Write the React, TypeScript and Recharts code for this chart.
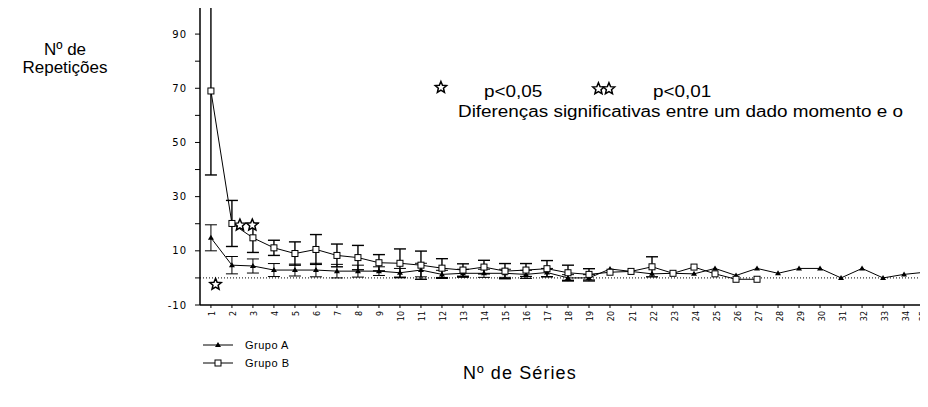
import React from 'react';
import { LineChart, Line, XAxis, YAxis, ErrorBar, ReferenceLine, ReferenceDot } from 'recharts';

const series = [1, 2, 3, 4, 5, 6, 7, 8, 9, 10, 11, 12, 13, 14, 15, 16, 17, 18, 19, 20, 21, 22, 23, 24, 25, 26, 27, 28, 29, 30, 31, 32, 33, 34, 35];
const grupoA = [14.8, 4.7, 4.4, 2.9, 2.9, 2.9, 2.5, 2.5, 2.5, 1.9, 2.9, 1.3, 1.7, 1.7, 1.7, 1.3, 2.0, 0, 0, 3.3, 2.4, 1.5, 1.7, 1.5, 3.5, 0.9, 3.5, 1.7, 3.5, 3.5, 0, 3.5, 0, 1.3, 2.1];
const erroA = [4.8, 3.2, 2.6, 2.4, 2.2, 2.5, 2.5, 2.2, 1.6, 1.6, 2.5, 1.5, 1.5, 1.5, 1.5, 1.5, 1.5, 1.2, 1.2, 0, 0, 0, 0, 0, 0, 0, 0, 0, 0, 0, 0, 0, 0, 0, 0];
const grupoB = [69, 20.1, 14.8, 11.1, 9, 10.5, 8.3, 7.5, 5.6, 5.4, 4.7, 3.6, 2.9, 4, 2.5, 2.9, 3.4, 1.9, 1.3, 2.1, 2.4, 4.1, 1.7, 4, 1.5, -0.5, -0.5, null, null, null, null, null, null, null, null];
const erroB = [31, 8.5, 5.4, 2.8, 4.3, 5.5, 4.2, 4.5, 3, 5.3, 5.2, 3.5, 2.3, 2.5, 2.8, 2.4, 3, 2.8, 2.1, 0, 0, 3.7, 0, 0, 0, 0, 0, 0, 0, 0, 0, 0, 0, 0, 0];
const yTicks = [-10, 0, 10, 20, 30, 40, 50, 60, 70, 80, 90, 100];
const yLabels = [-10, 10, 30, 50, 70, 90];
const estrelasDados = [
  { serie: 1.22, valor: -2.4 },
  { serie: 2.38, valor: 19.5 },
  { serie: 2.97, valor: 19.5 },
];
const estrelasLegenda = [
  { serie: 11.95, valor: 70.3 },
  { serie: 19.45, valor: 69.8 },
  { serie: 19.95, valor: 69.8 },
];

const data = series.map((s, i) => ({
  serie: s,
  a: grupoA[i],
  errA: erroA[i],
  b: grupoB[i],
  errB: erroB[i],
}));

const starPath = (cx: number, cy: number, r: number) => {
  const pts: string[] = [];
  for (let k = 0; k < 10; k++) {
    const rad = k % 2 === 0 ? r : r * 0.45;
    const ang = -Math.PI / 2 + (k * Math.PI) / 5;
    pts.push(`${cx + rad * Math.cos(ang)},${cy + rad * Math.sin(ang)}`);
  }
  return `M${pts.join('L')}Z`;
};

const Star = (props: any) => (
  <path d={starPath(props.cx, props.cy, 6)} fill="#fff" stroke="#000" strokeWidth={1.5} />
);

const Triangle = (props: any) => {
  const { cx, cy } = props;
  if (cx == null || cy == null || props.value == null) return null;
  return <path d={`M${cx},${cy - 3}L${cx + 3},${cy + 2}L${cx - 3},${cy + 2}Z`} fill="#000" />;
};

const Square = (props: any) => {
  const { cx, cy } = props;
  if (cx == null || cy == null || props.value == null) return null;
  return <rect x={cx - 3} y={cy - 3} width={6} height={6} fill="#fff" stroke="#000" strokeWidth={1} />;
};

const YTick = (props: any) => {
  const { x, y, payload } = props;
  if (!yLabels.includes(payload.value)) return null;
  return (
    <text x={x - 6} y={y} textAnchor="end" dominantBaseline="central" fontSize={10} fontFamily="DejaVu Sans" letterSpacing={1} fill="#000">
      {payload.value}
    </text>
  );
};

const XTick = (props: any) => {
  const { x, y, payload } = props;
  const tx = Math.min(x + 2, 923);
  const ty = y + 1;
  return (
    <text x={tx} y={ty} transform={`rotate(-90 ${tx} ${ty})`} textAnchor="end" dominantBaseline="central" fontSize={8} fontFamily="DejaVu Sans" fill="#000">
      {payload.value}
    </text>
  );
};

const font = '"Liberation Sans", Arial, sans-serif';
const wide: React.CSSProperties = {
  position: 'absolute',
  fontSize: 16,
  lineHeight: '18px',
  whiteSpace: 'nowrap',
  transform: 'scaleX(1.18)',
  transformOrigin: 'left center',
};

export default function App() {
  return (
    <div style={{ position: 'relative', width: 928, height: 407, margin: -8, background: '#fff', fontFamily: font, color: '#000' }}>
      <LineChart width={928} height={407} data={data} margin={{ top: 7, right: 0, bottom: 72, left: 0 }}>
        <XAxis
          dataKey="serie"
          type="number"
          domain={[0.48, 35.14]}
          ticks={series}
          interval={0}
          height={30}
          tickSize={3}
          tick={<XTick />}
          axisLine={{ stroke: '#000', strokeWidth: 1.5 }}
          tickLine={{ stroke: '#000' }}
        />
        <XAxis
          xAxisId="top"
          orientation="top"
          dataKey="serie"
          type="number"
          domain={[0.48, 35.14]}
          height={0}
          tick={false}
          tickLine={false}
          axisLine={{ stroke: '#000', strokeWidth: 2.5 }}
        />
        <YAxis
          type="number"
          domain={[-10, 100]}
          ticks={yTicks}
          width={200}
          tickSize={5}
          tick={<YTick />}
          axisLine={{ stroke: '#000', strokeWidth: 1.5 }}
          tickLine={{ stroke: '#000' }}
        />
        <ReferenceLine y={0} stroke="#000" strokeDasharray="1 2" strokeWidth={1} />
        <Line dataKey="a" stroke="#000" strokeWidth={1} dot={<Triangle />} isAnimationActive={false}>
          <ErrorBar dataKey="errA" width={6} stroke="#000" strokeWidth={1} />
        </Line>
        <Line dataKey="b" stroke="#000" strokeWidth={1} dot={<Square />} isAnimationActive={false}>
          <ErrorBar dataKey="errB" width={6} stroke="#000" strokeWidth={1.4} />
        </Line>
        {estrelasDados.map((s, i) => (
          <ReferenceDot key={'d' + i} x={s.serie} y={s.valor} r={6} shape={<Star />} />
        ))}
        {estrelasLegenda.map((s, i) => (
          <ReferenceDot key={'l' + i} x={s.serie} y={s.valor} r={6} shape={<Star />} />
        ))}
      </LineChart>

      <div style={{ ...wide, left: 484, top: 83 }}>p&lt;0,05</div>
      <div style={{ ...wide, left: 653, top: 83 }}>p&lt;0,01</div>
      <div style={{ ...wide, left: 458, top: 103 }}>Diferenças significativas entre um dado momento e o</div>

      <div style={{ position: 'absolute', left: 0, width: 130, top: 41, fontSize: 17, textAlign: 'center', lineHeight: '18px' }}>
        Nº de<br />Repetições
      </div>
      <div style={{ position: 'absolute', left: 463, top: 363, fontSize: 18, lineHeight: '20px', letterSpacing: 1.1 }}>Nº de Séries</div>

      <div style={{ position: 'absolute', left: 203, top: 336, fontSize: 11, lineHeight: '18px', letterSpacing: 0.5 }}>
        <div style={{ display: 'flex', alignItems: 'center' }}>
          <svg width={32} height={10}>
            <line x1={0} y1={5} x2={30} y2={5} stroke="#000" strokeWidth={1} />
            <path d="M15,2L18,7L12,7Z" fill="#000" />
          </svg>
          <span style={{ marginLeft: 10 }}>Grupo A</span>
        </div>
        <div style={{ display: 'flex', alignItems: 'center' }}>
          <svg width={32} height={10}>
            <line x1={0} y1={5} x2={30} y2={5} stroke="#000" strokeWidth={1} />
            <rect x={12} y={2} width={6} height={6} fill="#fff" stroke="#000" />
          </svg>
          <span style={{ marginLeft: 10 }}>Grupo B</span>
        </div>
      </div>
    </div>
  );
}
